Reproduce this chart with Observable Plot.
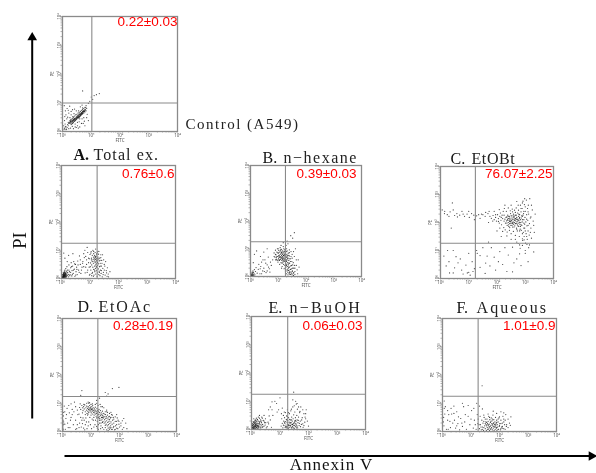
<!DOCTYPE html>
<html><head><meta charset="utf-8">
<script src="https://cdn.jsdelivr.net/npm/d3@7"></script>
<script src="https://cdn.jsdelivr.net/npm/@observablehq/plot@0.6"></script>
<style>
html,body{margin:0;padding:0;background:#fff;width:596px;height:473px;overflow:hidden}
#page{position:relative;width:596px;height:473px}
#page>svg{position:absolute;background:transparent;filter:blur(.35px)}
</style></head><body><div id="page"></div>
<script>
// Events, as FITC,PI pairs in hundredths of a log decade.
const controlEvents=[22,28,24,30,25,33,27,29,28,35,29,31,30,36,32,33,33,38,34,35,35,40,36,37,38,42,38,38,40,44,41,41,42,46,43,43,44,40,45,47,46,44,48,50,48,46,50,48,50,53,52,51,53,55,54,49,55,53,56,58,57,55,58,52,59,60,60,57,61,62,62,59,63,56,64,64,65,61,66,66,67,63,68,60,69,68,70,65,71,70,72,67,73,72,75,71,76,74,78,76,80,75,81,83,84,80,5,6,6,12,4,20,8,9,9,26,7,38,12,18,14,8,15,44,12,58,18,50,20,20,22,64,26,48,28,12,30,58,10,72,16,80,34,18,38,10,40,62,44,26,48,72,52,32,55,12,58,34,62,86,66,28,68,44,70,82,74,48,78,20,82,90,86,60,90,38,35,76,25,88,6,90,90,98,95,105,105,112,70,141,110,125,118,128,128,132,100,120,30,24,34,28,38,32,42,36,46,40,50,44,54,46,58,50,62,54,66,58,70,62,74,64,78,68,82,72,26,38,30,42,34,46,38,50,42,54,46,58,50,60,54,64,58,66,62,70,66,74,70,76,74,80,78,84,36,30,44,38,52,48,60,52,68,64,76,70,40,36,48,42,56,50,64,60,72,70,28,40,32,26,20,32,18,24,16,14,10,16,12,6,22,10,36,52,44,16,52,20,60,44,72,28,84,48,42,78,56,72,68,92,30,70,20,74,8,52,48,14,60,16,76,36];
const totalExEvents=[3,5,4,8,5,3,5,11,6,6,6,14,7,9,7,18,8,4,8,12,8,16,9,7,9,21,10,10,10,14,10,26,11,5,11,18,12,8,12,12,12,30,13,16,13,22,14,6,14,10,15,13,15,35,16,19,17,8,17,26,18,15,19,42,20,11,21,30,22,20,24,6,26,48,28,24,30,14,32,38,34,56,36,9,37,28,39,44,41,18,43,60,45,33,47,8,49,50,51,24,53,40,55,14,57,62,60,30,63,80,66,50,68,18,72,40,20,60,12,72,8,90,25,82,40,88,92,92,97,40,98,70,100,15,100,85,102,55,103,30,104,95,105,72,106,10,106,48,107,62,108,82,109,22,110,40,110,100,111,68,112,76,112,54,113,32,113,88,114,12,115,62,115,72,116,44,116,82,117,24,117,66,118,56,118,92,119,74,119,36,120,68,120,48,120,16,121,60,121,78,122,70,122,28,123,84,123,52,124,64,124,40,125,72,125,8,126,58,126,94,127,20,127,46,128,76,128,66,129,34,130,52,130,86,131,14,132,62,132,26,133,42,134,72,135,10,136,54,137,30,138,84,139,18,140,44,141,64,143,6,145,36,147,22,150,50,153,12,157,28,160,8,164,16,78,88,82,100,85,78,88,66,90,110,75,60,4,3,6,4,7,6,8,8,9,11,10,6,11,12,12,4,13,8,14,14,9,15,7,12,5,8,4,14,6,20,10,22,14,18,16,4,18,9,20,22,24,14,26,30,29,10,32,22,35,42,38,14,42,30,46,52,50,12,54,32,58,48,62,22,66,66,70,30,74,54,78,42,83,20,88,50,92,30,95,72,98,12,101,42,103,90,107,18,110,60,113,96,116,30,118,78,120,104,122,42,124,88,127,56,129,70,131,96,133,22,135,64,136,44,138,74,140,28,142,54,144,84,146,14,148,66,150,30,152,44,155,60,158,20,161,38,165,6,170,24,112,8,105,66,95,56,90,22,85,40,80,74];
const hexaneEvents=[3,4,4,8,5,3,5,12,6,6,6,16,7,9,8,4,8,13,9,20,10,7,11,15,12,3,13,10,14,25,16,6,18,18,20,32,24,12,28,26,30,44,34,10,37,36,40,52,44,20,48,30,52,60,56,14,60,42,64,70,68,28,72,52,10,50,14,80,22,92,36,72,48,88,60,100,85,85,88,70,90,95,92,78,94,62,95,88,97,100,98,72,99,52,100,84,101,66,102,94,103,76,104,58,105,88,105,44,106,70,107,104,107,80,108,62,109,92,109,72,110,50,110,84,111,66,112,76,112,98,113,58,113,88,114,70,114,36,115,80,115,62,116,92,116,72,117,52,117,84,118,66,118,108,119,76,119,44,120,60,120,88,121,70,121,28,122,80,122,54,123,64,123,96,124,74,124,40,125,58,125,84,126,68,126,20,127,48,127,76,128,62,128,34,129,90,129,54,130,70,130,10,131,44,131,80,132,26,132,60,133,36,133,74,134,16,134,50,135,66,135,6,136,30,136,84,137,42,138,22,138,58,139,12,140,34,140,74,141,48,142,18,143,26,143,64,144,8,145,38,146,14,146,90,148,28,149,54,150,6,151,20,152,42,154,12,156,30,158,72,160,18,162,100,165,40,170,10,172,60,128,112,135,118,145,147,152,138,158,158,132,128,118,122,90,80,93,68,96,58,99,86,102,74,105,60,108,96,110,68,112,86,114,48,116,66,118,56,120,76,122,90,124,60,126,84,128,70,130,56,132,92,134,66,136,76,138,48,140,86,142,64,144,54,146,72,148,40,150,66,152,30,154,50,156,14,158,40,160,30,125,30,128,20,130,40,135,22,138,34,140,14,142,8,145,26,148,10,150,18,155,4,160,8,112,30,105,70,100,60,95,72,90,60,85,72,80,60,75,40,70,16,65,34,60,20,55,48,50,18,45,60,40,10,35,28,100,100,110,112,120,100,130,100,140,96,150,80,155,90,165,60,168,24,175,34];
const etobtEvents=[225,205,228,212,230,198,232,218,234,206,236,190,237,212,238,226,240,200,241,214,242,186,243,208,244,222,245,196,246,212,247,204,248,232,249,190,250,216,251,206,252,198,253,224,254,210,255,184,256,216,257,202,258,230,259,194,260,210,261,220,262,200,263,188,264,214,265,206,266,226,267,196,268,212,269,180,270,218,271,204,272,192,273,234,274,210,275,198,276,222,277,186,278,206,279,214,280,228,281,194,282,176,283,210,284,200,285,238,180,215,186,225,190,210,195,218,198,205,202,228,205,214,208,198,210,222,212,234,214,208,216,192,218,226,220,214,222,240,224,182,226,250,229,174,233,240,236,166,240,252,244,172,247,242,250,160,254,248,258,168,262,244,265,154,268,252,272,170,276,244,279,150,283,262,286,172,287,224,288,190,289,250,290,210,291,136,292,276,293,165,294,232,295,198,296,150,297,264,298,180,299,218,300,240,301,126,302,202,303,160,304,280,305,228,306,188,307,140,308,250,309,208,310,170,311,262,312,230,314,155,315,196,316,285,318,216,320,180,322,144,325,245,328,205,332,165,270,130,280,120,290,118,300,100,282,108,296,138,306,122,312,110,6,245,15,240,24,228,34,238,42,270,50,225,58,232,68,226,76,240,85,222,94,230,102,218,110,232,118,226,128,224,140,215,150,228,160,236,172,240,38,180,12,80,30,60,45,20,62,56,75,30,90,48,105,12,112,60,128,100,140,40,158,18,165,80,180,110,195,30,210,96,220,50,240,84,255,24,270,70,285,46,300,90,45,100,100,90,115,25,255,112,228,110,235,198,238,208,241,192,244,216,247,198,250,208,253,190,256,200,259,220,262,208,265,196,268,226,271,212,274,188,277,230,280,200,283,186,286,216,289,202,292,226,295,210,298,194,240,222,245,204,250,224,255,196,260,226,265,214,270,198,275,208,280,218,285,192,290,222,295,180,260,184,270,176,280,170,290,160,300,170,310,190,320,220,305,212,300,256,295,240,285,250,275,262,265,236,255,238,245,182,235,220,225,226,215,218,205,204,195,228,185,205,175,222,210,180,220,168,235,152,250,140,265,140,275,125,290,142,305,150,318,165,330,190,335,230,322,262,310,238,290,270,298,285,270,275,250,262,228,262,208,246,190,240,170,200,168,232,158,222,145,230,135,228,100,240,80,230,60,220,30,222,14,232,45,245,120,210,200,170,215,150,170,130,150,110,130,90,190,76,160,55,140,82,120,35,100,22,80,16,70,70,50,38,20,45,25,100,32,20,55,78,95,20,175,45,205,60,235,25,260,56,280,88,310,60,330,95,315,120];
const etoacEvents=[60,85,64,78,68,92,70,84,72,74,74,88,76,80,78,94,80,70,82,84,84,76,85,90,86,64,88,82,89,72,90,88,91,78,92,68,93,84,94,76,95,92,96,80,97,70,98,86,99,76,100,82,101,66,102,78,103,88,104,72,105,80,106,62,107,76,108,84,109,68,110,74,111,58,112,80,113,66,114,72,115,86,116,62,117,76,118,54,119,70,120,64,121,82,122,58,123,74,124,66,125,50,126,72,127,60,128,78,129,54,130,68,131,46,132,62,133,74,134,56,135,40,136,66,137,50,138,60,139,44,140,72,141,56,142,36,143,64,144,48,145,54,146,30,147,62,148,42,149,52,150,34,151,60,152,46,153,26,154,54,155,38,156,48,157,20,158,58,159,32,160,44,161,24,162,52,163,36,164,16,165,42,166,28,167,12,168,48,169,20,170,34,172,8,174,26,176,40,178,14,180,30,183,6,186,20,190,36,194,10,198,26,2,12,3,26,2,40,3,55,4,68,2,20,3,6,4,34,10,8,14,60,18,30,22,92,26,14,30,50,34,78,38,24,42,104,46,40,50,10,54,60,30,98,60,30,66,16,72,48,78,6,84,34,90,20,96,50,102,10,108,40,114,24,120,100,126,8,132,96,140,88,155,76,170,68,190,60,68,145,64,128,150,138,160,133,175,152,198,156,155,125,130,118,120,110,90,104,70,66,75,96,80,60,85,100,90,62,95,102,100,58,105,98,110,50,115,96,120,48,125,92,130,40,135,88,140,32,145,84,150,22,155,70,160,12,165,64,170,50,175,58,180,44,185,52,190,24,195,40,200,16,205,30,210,8,215,46,130,30,135,20,140,14,145,8,150,14,155,6,160,4,165,8,170,14,175,8,180,18,185,8,190,12,140,50,135,30,128,48,122,36,120,18,126,24,134,10,150,70,158,68,165,54,172,60,178,50,185,36,192,48,198,36,205,20,210,38,215,14,222,30,226,10,100,96,106,92,92,100,88,58,82,48,76,40,70,28,64,50,58,62,52,76,46,88,40,70,34,60,28,40,24,66,20,14,16,82,12,46,8,70,8,26,6,90,52,24,46,8,58,14,62,98,68,40,74,12,80,24,86,10,92,34,98,24,104,44,110,16,116,40,122,12];
const buohEvents=[2,3,3,8,4,14,4,22,5,5,6,11,6,28,7,3,7,17,8,8,8,24,9,13,10,4,10,20,11,30,11,9,12,15,13,6,13,25,14,18,14,11,15,3,15,32,16,14,16,22,17,7,18,19,18,12,19,27,20,5,20,16,21,36,22,10,22,22,23,3,24,15,24,30,25,8,26,20,27,12,28,40,28,26,30,6,30,18,32,34,33,12,35,24,36,44,38,8,39,18,41,32,44,12,46,24,49,38,52,6,60,20,66,34,70,8,66,80,72,70,82,100,90,62,100,112,108,76,104,12,106,38,108,22,110,6,112,50,113,30,114,14,116,42,117,22,118,8,119,60,120,28,121,16,122,36,123,48,124,10,125,24,126,70,127,32,128,18,129,4,130,42,131,14,132,26,133,56,134,8,135,20,136,34,137,14,138,66,139,24,140,6,141,44,142,18,143,30,144,10,145,80,146,38,147,22,148,52,149,14,150,4,151,30,152,62,153,20,154,42,155,10,156,28,157,90,158,16,159,50,160,34,161,72,162,6,163,24,165,44,167,14,169,60,171,30,173,80,175,18,178,42,181,8,184,56,187,26,190,38,192,70,148,132,6,6,9,9,12,12,15,15,18,8,21,14,24,10,27,22,30,28,33,6,36,16,40,10,44,30,48,16,55,10,58,26,62,48,5,18,9,26,13,34,17,40,8,38,4,8,3,14,12,22,16,28,20,34,24,44,28,50,34,30,38,40,44,50,50,24,112,16,116,26,120,10,124,34,128,8,132,14,136,24,140,34,144,18,148,6,152,14,156,20,160,12,164,32,168,22,172,10,176,34,180,20,184,14,188,44,122,6,126,46,130,16,134,36,138,12,142,6,146,16,150,24,154,32,158,6,130,60,140,72,150,84,160,92,170,64,180,70,190,56,196,30,200,12,115,62,105,56,95,70,88,92,75,50,60,70,72,98,145,105,155,100,165,80];
const aqueousEvents=[130,10,133,24,136,6,138,40,140,16,142,30,144,4,146,50,148,20,150,10,152,34,153,24,154,4,156,44,157,14,158,28,159,8,160,36,161,20,162,54,163,12,164,26,165,4,166,42,167,18,168,32,169,8,170,22,171,48,172,14,173,28,174,38,175,6,176,20,177,58,178,12,179,30,180,42,181,4,182,24,183,16,184,34,185,8,186,50,187,20,188,28,189,12,190,40,191,4,192,24,193,16,195,34,196,8,198,48,199,18,201,28,203,6,205,40,207,16,210,30,212,54,215,10,218,24,222,60,224,18,6,82,4,50,5,20,3,34,8,62,14,8,18,40,22,60,28,14,32,62,36,30,40,64,46,12,50,70,54,28,60,6,64,46,70,18,74,88,78,34,84,8,90,54,96,24,102,74,108,12,110,82,112,40,118,8,122,60,124,28,139,162,140,8,145,14,150,28,155,20,160,8,165,16,170,10,175,26,180,18,185,24,190,14,195,8,200,22,205,10,210,18,215,34,220,8,225,24,230,14,235,30,145,36,150,44,155,32,160,24,165,50,170,36,175,44,180,30,185,16,190,32,195,44,200,52,205,28,210,12,215,44,220,40,230,44,238,22,240,52,135,16,128,24,125,44,132,54,145,58,160,62,178,72,190,64,205,70,215,66,140,80,130,90,120,100,90,92,70,100,40,90,30,82,18,74,10,88,6,108,20,8,26,36,42,40,56,52,68,30,80,60,100,44,115,24,50,20];

const panelEvents=[controlEvents,totalExEvents,hexaneEvents,etobtEvents,etoacEvents,buohEvents,aqueousEvents];
const panelLetters=["","A.","B.","C.","D.","E.","F."];
const panelNames=["","Total ex.","n−hexane","EtOBt","EtOAc","n−BuOH","Aqueous"];
const upperRight=["0.22±0.03","0.76±0.6","0.39±0.03","76.07±2.25","0.28±0.19","0.06±0.03","1.01±0.9"];
const gateFitc=[1.02,1.25,1.26,1.235,1.24,1.27,1.25];
const gatePi=[0.99,1.25,1.25,1.26,1.24,1.25,1.25];
const controlNote="Control (A549)";
const xAxisTitle="Annexin V";
const yAxisTitle="PI";

// Layout of the figure, in page pixels.
const frames=[[62,16,115,115],[60.5,165,114,113],[249.5,165,111,111],[440,165.5,113,112],[62,318,114,113],[251,316,114,113],[442,318,114,113]];
const labelInset=[[0,5],[1,8],[5,8],[1,7],[3.5,7],[3,9],[1,7]];
const titleShift=[[0,0],[12,11],[12,8],[10,8],[15,12],[17,9],[14,11]];
const nameShift=[0,20,21,21,21,21,20];
const nameSpacing=[0,1.1,1.5,0.6,1.8,2.3,2.1];
const M={left:24,right:12,top:22,bottom:14};
const page=document.getElementById("page");
const serif="'Liberation Serif',serif";

const toEvents=flat=>d3.range(0,flat.length,2).map(i=>({fitc:10**(flat[i]/100),pi:10**(flat[i+1]/100)}));
const decades=[1,10,100,1000,10000];
const ticks=[...d3.range(0,4).flatMap(d=>d3.range(1,10).map(k=>k*10**d)),10000];
const sup=["⁰","¹","²","³","⁴"];
const tickText=v=>decades.includes(v)?"10"+sup[Math.round(Math.log10(v))]:"";
const spaced=(svg,cls,px)=>svg.querySelectorAll("."+cls).forEach(g=>{g.style.letterSpacing=px+"px";});

panelEvents.forEach((flat,i)=>{
  const [fx,fy,fw,fh]=frames[i];
  const right=i===0?M.right+125:M.right;
  const [rx,ry]=labelInset[i], [tx,ty]=titleShift[i];
  const svg=Plot.plot({
    width:fw+M.left+right,height:fh+M.top+M.bottom,
    marginLeft:M.left,marginRight:right,marginTop:M.top,marginBottom:M.bottom,
    style:{background:"transparent",overflow:"visible"},
    x:{type:"log",domain:[1,10000]},
    y:{type:"log",domain:[1,10000]},
    marks:[
      Plot.axisX({ticks,tickFormat:tickText,tickSize:1.5,tickPadding:0.5,stroke:"#666",strokeWidth:.5,fontSize:4.5,fill:"#555",label:"FITC",labelAnchor:"center",labelOffset:10,labelArrow:"none"}),
      Plot.axisY({ticks,tickFormat:tickText,tickSize:1.5,tickPadding:0.5,tickRotate:-90,stroke:"#666",strokeWidth:.5,fontSize:4.5,fill:"#555",label:"PE",labelAnchor:"center",labelOffset:12,labelArrow:"none"}),
      Plot.dot(toEvents(flat),{x:"fitc",y:"pi",r:0.6,fill:"#111",fillOpacity:.8,stroke:"none"}),
      Plot.ruleX([10**gateFitc[i]],{stroke:"#8a8a8a",strokeWidth:1.1}),
      Plot.ruleY([10**gatePi[i]],{stroke:"#8a8a8a",strokeWidth:1.1}),
      Plot.frame({stroke:"#8a8a8a",strokeWidth:1.3}),
      Plot.text([upperRight[i]],{frameAnchor:"top-right",dx:-rx,dy:ry,lineAnchor:"middle",textAnchor:"end",fill:"#f00",fontSize:13.5,fontFamily:"Liberation Sans"}),
      i===0?Plot.text([controlNote],{x:[10000],y:[1.8],dx:8,textAnchor:"start",fontSize:15,fontFamily:serif,fill:"#222",className:"note"}):null,
      i>0?Plot.text([panelLetters[i]],{frameAnchor:"top-left",dx:tx,dy:-ty,lineAnchor:"middle",textAnchor:"start",fontSize:16,fontFamily:serif,fill:"#111",fontWeight:i===1?"bold":"normal"}):null,
      i>0?Plot.text([panelNames[i]],{frameAnchor:"top-left",dx:tx+nameShift[i],dy:-ty,lineAnchor:"middle",textAnchor:"start",fontSize:16,fontFamily:serif,fill:"#222",className:"name"}):null
    ]
  });
  spaced(svg,"note",1.5);
  spaced(svg,"name",nameSpacing[i]);
  svg.style.left=(fx-M.left)+"px";
  svg.style.top=(fy-M.top)+"px";
  page.appendChild(svg);
});

// Figure-level axes: arrows and titles on a page-wide layer.
const arrowTips=[{x:31.7,y:37,rotate:0},{x:591,y:455.5,rotate:90}];
const pageLayer=Plot.plot({
  width:596,height:473,margin:0,
  style:{background:"transparent"},
  x:{domain:[0,596],range:[0,596],axis:null},
  y:{domain:[0,473],range:[0,473],axis:null},
  marks:[
    Plot.link([{x1:31.7,y1:418,x2:31.7,y2:38}],{x1:"x1",y1:"y1",x2:"x2",y2:"y2",stroke:"#000",strokeWidth:2}),
    Plot.link([{x1:64,y1:455.5,x2:590,y2:455.5}],{x1:"x1",y1:"y1",x2:"x2",y2:"y2",stroke:"#000",strokeWidth:2}),
    Plot.dot(arrowTips,{x:"x",y:"y",rotate:"rotate",symbol:"triangle",r:3.6,fill:"#000",stroke:"none"}),
    Plot.text([xAxisTitle],{x:[331],y:[464.5],fontSize:17,fontFamily:serif,fill:"#111",className:"axisTitleX"}),
    Plot.text([yAxisTitle],{x:[19.5],y:[240],rotate:-90,fontSize:19,fontFamily:serif,fill:"#111"})
  ]
});
spaced(pageLayer,"axisTitleX",1);
pageLayer.style.left="0";pageLayer.style.top="0";
page.appendChild(pageLayer);
</script></body></html>
